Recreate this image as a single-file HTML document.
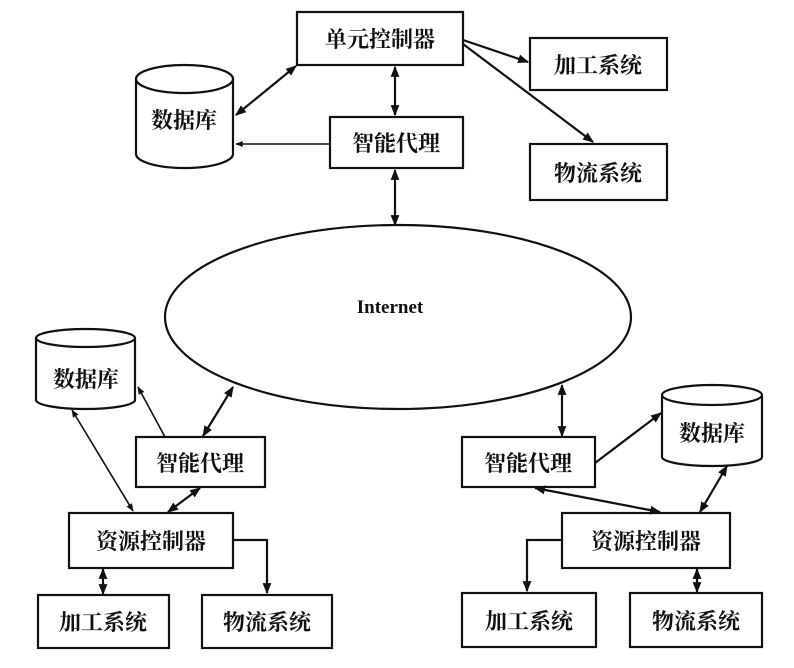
<!DOCTYPE html>
<html><head><meta charset="utf-8"><style>
html,body{margin:0;padding:0;background:#fff;}
svg{display:block;}
text{font-family:"Liberation Serif","Noto Serif CJK SC",serif;font-weight:bold;fill:#111;}
</style></head><body>
<svg width="794" height="668" viewBox="0 0 794 668" xmlns="http://www.w3.org/2000/svg">
<defs>
<marker id="a" viewBox="0 0 10 10" refX="9" refY="5" markerWidth="5" markerHeight="5" orient="auto-start-reverse"><path d="M0,1 L10,5 L0,9 z" fill="#111"/></marker>
</defs>
<g fill="none" stroke="#111" stroke-width="2.2">
<rect x="297" y="12" width="166" height="53"/>
<rect x="530" y="38" width="137" height="52"/>
<rect x="530" y="144" width="137" height="56"/>
<rect x="330" y="117" width="133" height="51"/>
<path d="M136,79 L136,154 A48.5,14 0 0 0 233,154 L233,79"/>
<ellipse cx="184.5" cy="79" rx="48.5" ry="14"/>
<line x1="395" y1="67" x2="395" y2="115" marker-start="url(#a)" marker-end="url(#a)"/>
<line x1="395" y1="170" x2="395" y2="225" marker-start="url(#a)" marker-end="url(#a)"/>
<line x1="296" y1="66" x2="236" y2="115" marker-start="url(#a)" marker-end="url(#a)"/>
<line x1="330" y1="144" x2="236" y2="144" stroke-width="1.5" marker-end="url(#a)"/>
<line x1="463" y1="40" x2="528" y2="62" marker-end="url(#a)"/>
<line x1="463" y1="44" x2="593" y2="142" marker-end="url(#a)"/>
<ellipse cx="398" cy="317" rx="233" ry="92"/>
<path d="M36,338 L36,400 A49.5,9 0 0 0 135,400 L135,338"/>
<ellipse cx="85.5" cy="338" rx="49.5" ry="9"/>
<rect x="136" y="437" width="129" height="50"/>
<rect x="69" y="513" width="164" height="55"/>
<rect x="38" y="595" width="131" height="53"/>
<rect x="202" y="595" width="130" height="53"/>
<line x1="72" y1="410" x2="133" y2="511" stroke-width="1.6" marker-start="url(#a)" marker-end="url(#a)"/>
<line x1="165" y1="437" x2="138" y2="387" stroke-width="1.6" marker-end="url(#a)"/>
<line x1="203" y1="436" x2="233" y2="387" marker-start="url(#a)" marker-end="url(#a)"/>
<line x1="200" y1="488" x2="168" y2="512" marker-start="url(#a)" marker-end="url(#a)"/>
<polyline points="233,540 267,540 267,593" marker-end="url(#a)"/>
<line x1="103" y1="569" x2="103" y2="594" marker-start="url(#a)" marker-end="url(#a)"/>
<path d="M662,395 L662,457 A50,9 0 0 0 762,457 L762,395"/>
<ellipse cx="712" cy="395" rx="50" ry="10"/>
<rect x="462" y="437" width="133" height="50"/>
<rect x="562" y="513" width="168" height="55"/>
<rect x="462" y="593" width="134" height="54"/>
<rect x="630" y="593" width="132" height="54"/>
<line x1="562" y1="385" x2="562" y2="436" marker-start="url(#a)" marker-end="url(#a)"/>
<line x1="595" y1="463" x2="661" y2="413" marker-end="url(#a)"/>
<line x1="535" y1="488" x2="660" y2="512" marker-start="url(#a)" marker-end="url(#a)"/>
<line x1="727" y1="466" x2="700" y2="512" marker-start="url(#a)" marker-end="url(#a)"/>
<polyline points="562,540 527,540 527,591" marker-end="url(#a)"/>
<line x1="697" y1="569" x2="697" y2="592" marker-start="url(#a)" marker-end="url(#a)"/>
</g>
<g font-size="22" text-anchor="middle">
<text x="380" y="47">单元控制器</text>
<text x="598" y="73">加工系统</text>
<text x="598" y="181">物流系统</text>
<text x="396" y="151">智能代理</text>
<text x="184" y="128">数据库</text>
<text x="86" y="387">数据库</text>
<text x="200" y="471">智能代理</text>
<text x="151" y="549">资源控制器</text>
<text x="103" y="630">加工系统</text>
<text x="267" y="630">物流系统</text>
<text x="712" y="441">数据库</text>
<text x="528" y="471">智能代理</text>
<text x="646" y="549">资源控制器</text>
<text x="529" y="629">加工系统</text>
<text x="696" y="629">物流系统</text>
<text x="390" y="313" font-size="19">Internet</text>
</g>
</svg>
</body></html>
